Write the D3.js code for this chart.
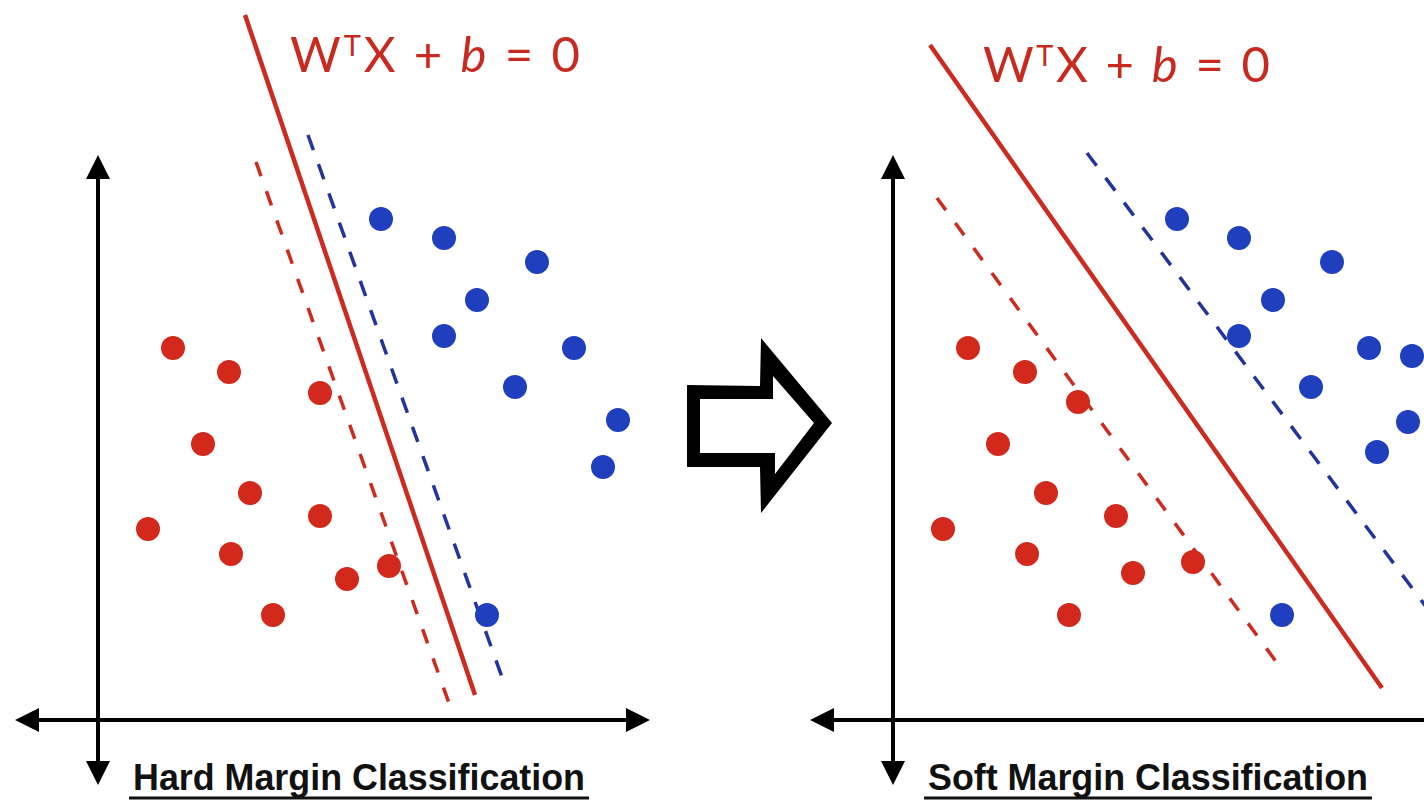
<!DOCTYPE html>
<html><head><meta charset="utf-8">
<script src="https://cdn.jsdelivr.net/npm/d3@7"></script>
<style>body{margin:0;background:#fff}svg{display:block}</style>
</head><body>
<svg id="c" width="1424" height="800"></svg>
<script>
// ---- data ----
const panelTitles = ["Hard Margin Classification", "Soft Margin Classification"];
const equationParts = ["W", "T", "X + ", "b", " = 0"];

const hardRedX = [7.5, 13.1, 22.2, 10.5, 15.2, 5.0, 22.2, 13.3, 29.1, 24.9, 17.5];
const hardRedY = [37.2, 34.8, 32.7, 27.6, 22.7, 19.1, 20.4, 16.6, 15.4, 14.1, 10.5];
const hardBlueX = [28.3, 34.6, 43.9, 37.9, 34.6, 47.6, 41.7, 52.0, 50.5, 38.9];
const hardBlueY = [50.1, 48.2, 45.8, 42.0, 38.4, 37.2, 33.3, 30.0, 25.3, 10.5];

const softRedX = [7.5, 13.2, 18.5, 10.5, 15.3, 5.0, 22.3, 13.4, 30.0, 24.0, 17.6];
const softRedY = [37.2, 34.8, 31.8, 27.6, 22.7, 19.1, 20.4, 16.6, 15.8, 14.7, 10.5];
const softBlueX = [28.4, 34.6, 43.9, 38.0, 34.6, 47.6, 51.9, 41.8, 51.5, 48.4, 38.9];
const softBlueY = [50.1, 48.2, 45.8, 42.0, 38.4, 37.2, 36.4, 33.3, 29.8, 26.8, 10.5];

// boundary and margin lines: [x1, y1, x2, y2]
const hardBoundary = [14.7, 70.5, 37.7, 2.5];
const hardRedMargin = [15.8, 55.8, 35.2, 1.4];
const hardBlueMargin = [21.0, 58.5, 40.5, 4.0];
const softBoundary = [3.7, 67.5, 48.9, 3.2];
const softRedMargin = [4.4, 52.2, 38.7, 5.3];
const softBlueMargin = [19.4, 56.7, 53.7, 10.8];

// ---- styles ----
const RED = "#d3291d", RED_LINE = "#cc2b20", RED_TEXT = "#c92a20";
const BLUE = "#1f3fbf", BLUE_LINE = "#23349a";

const svg = d3.select("#c");

const panels = [
  {title: panelTitles[0], ox: 98, red: [hardRedX, hardRedY], blue: [hardBlueX, hardBlueY],
   boundary: hardBoundary, rm: hardRedMargin, bm: hardBlueMargin,
   eqX: 290, eqY: 72, eqW: 290, axL: -8.3, axR: 55.2, titleX: 133, titleW: 452},
  {title: panelTitles[1], ox: 893, red: [softRedX, softRedY], blue: [softBlueX, softBlueY],
   boundary: softBoundary, rm: softRedMargin, bm: softBlueMargin,
   eqX: 983, eqY: 82, eqW: 287, axL: -8.3, axR: 56.0, titleX: 928, titleW: 440}
];

const y = d3.scaleLinear().domain([0, 57]).range([720, 150]);

panels.forEach(p => {
  const x = d3.scaleLinear().domain([0, 55]).range([p.ox, p.ox + 550]);
  const g = svg.append("g");

  // axes
  const ax = g.append("g");
  ax.append("line").attr("x1", x(p.axL) + 10).attr("x2", x(p.axR) - 10)
    .attr("y1", y(0)).attr("y2", y(0)).attr("stroke", "#000").attr("stroke-width", 4);
  ax.append("line").attr("x1", x(0)).attr("x2", x(0))
    .attr("y1", y(56.5) + 10).attr("y2", y(-6.5) - 10).attr("stroke", "#000").attr("stroke-width", 4);
  const tri = (pts) => ax.append("path").attr("d", "M" + pts.map(q => q.join(",")).join("L") + "Z").attr("fill", "#000");
  const hw = 12, hl = 24;
  const xl = x(p.axL), xr = x(p.axR), y0 = y(0), yt = y(56.5), yb = y(-6.5), x0 = x(0);
  tri([[xl, y0], [xl + hl, y0 - hw], [xl + hl, y0 + hw]]);
  tri([[xr, y0], [xr - hl, y0 - hw], [xr - hl, y0 + hw]]);
  tri([[x0, yt], [x0 - hw, yt + hl], [x0 + hw, yt + hl]]);
  tri([[x0, yb], [x0 - hw, yb - hl], [x0 + hw, yb - hl]]);

  // lines
  const seg = (l, color, w, dash) => g.append("line")
    .attr("x1", x(l[0])).attr("y1", y(l[1])).attr("x2", x(l[2])).attr("y2", y(l[3]))
    .attr("stroke", color).attr("stroke-width", w).attr("stroke-dasharray", dash);
  seg(p.rm, RED_LINE, 3.5, "15,16");
  seg(p.bm, BLUE_LINE, 3.5, "16,15");
  seg(p.boundary, RED_LINE, 4.5, null);

  // points
  const pts = (arr, color) => g.append("g").selectAll("circle")
    .data(arr[0].map((v, i) => [v, arr[1][i]])).join("circle")
    .attr("cx", d => x(d[0])).attr("cy", d => y(d[1])).attr("r", 12).attr("fill", color);
  pts(p.red, RED);
  pts(p.blue, BLUE);

  // equation
  const eq = g.append("text").attr("x", p.eqX).attr("y", p.eqY)
    .attr("font-family", "Lato, 'Open Sans', sans-serif").attr("font-size", 49)
    .attr("textLength", p.eqW).attr("lengthAdjust", "spacing")
    .attr("fill", RED_TEXT).style("white-space", "pre");
  eq.append("tspan").text(equationParts[0]);
  eq.append("tspan").attr("font-size", 29).attr("dy", -16).text(equationParts[1]);
  eq.append("tspan").attr("dy", 16).text(equationParts[2]);
  eq.append("tspan").attr("font-style", "italic").text(equationParts[3]);
  eq.append("tspan").text(equationParts[4]);

  // title
  g.append("text").attr("x", p.titleX).attr("y", 790)
    .attr("font-family", "'Liberation Sans', Arial, sans-serif").attr("font-weight", "bold")
    .attr("font-size", 37).attr("textLength", p.titleW).attr("lengthAdjust", "spacingAndGlyphs")
    .attr("fill", "#111").text(p.title);
  g.append("line").attr("x1", p.titleX - 4).attr("x2", p.titleX + p.titleW + 4)
    .attr("y1", 798).attr("y2", 798).attr("stroke", "#111").attr("stroke-width", 3);
});

// transition arrow (hollow block arrow)
const outer = [[687,385],[760,386],[761,338],[832,423],[761,513],[760,467],[687,467]];
const inner = [[700,399],[773,399],[773,376],[814,423],[775,474],[775,453],[700,453]];
const poly = d3.line();
svg.append("path").attr("d", poly(outer) + "Z" + poly(inner) + "Z")
  .attr("fill", "#000").attr("fill-rule", "evenodd");
</script>
</body></html>
